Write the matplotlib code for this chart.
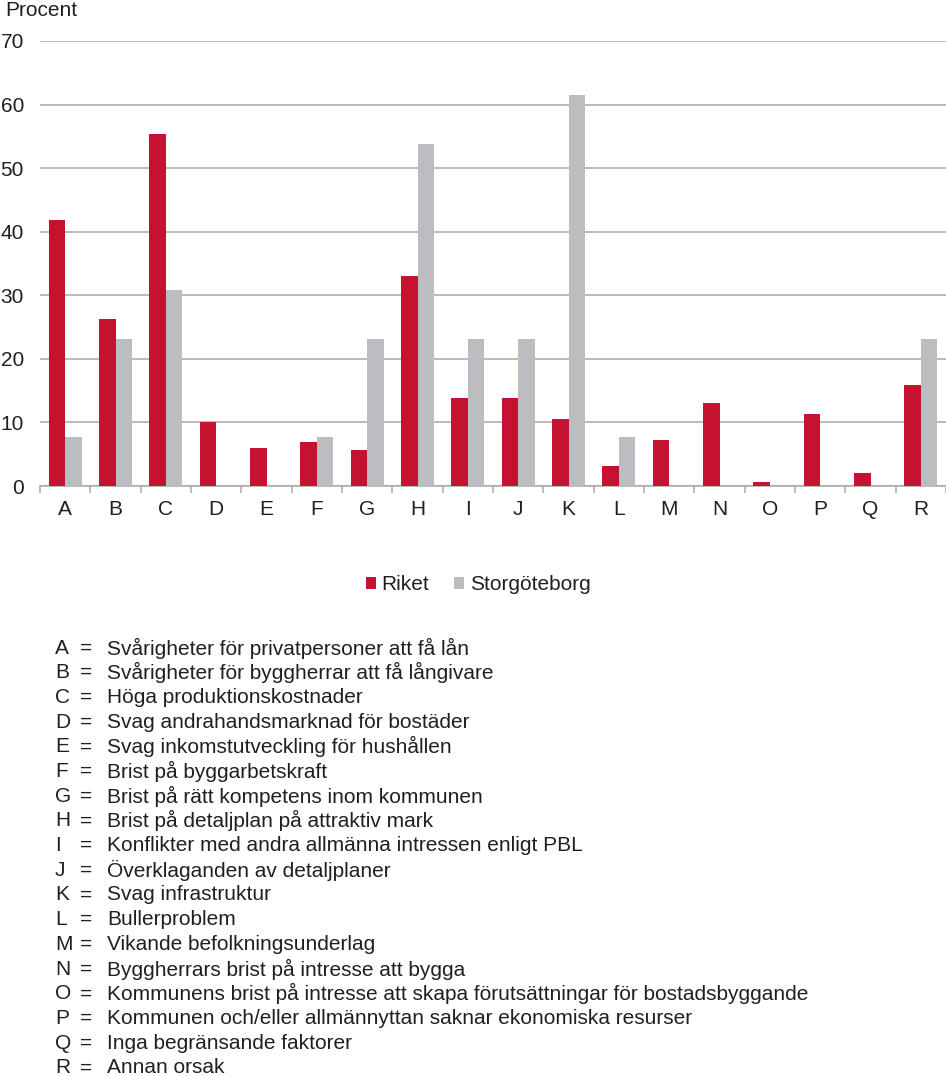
import matplotlib.pyplot as plt
import numpy as np

plt.rcParams['font.family'] = ['Liberation Sans', 'DejaVu Sans']

# Data
categories = ['A', 'B', 'C', 'D', 'E', 'F', 'G', 'H', 'I', 'J', 'K', 'L', 'M', 'N', 'O', 'P', 'Q', 'R']
riket = [41.8, 26.3, 55.3, 10.1, 5.9, 7.0, 5.7, 33.1, 13.9, 13.9, 10.5, 3.1, 7.2, 13.1, 0.7, 11.4, 2.0, 15.9]
storgoteborg = [7.7, 23.1, 30.8, 0, 0, 7.7, 23.1, 53.8, 23.1, 23.1, 61.5, 7.7, 0, 0, 0, 0, 0, 23.1]
descriptions = [
    'Svårigheter för privatpersoner att få lån',
    'Svårigheter för byggherrar att få långivare',
    'Höga produktionskostnader',
    'Svag andrahandsmarknad för bostäder',
    'Svag inkomstutveckling för hushållen',
    'Brist på byggarbetskraft',
    'Brist på rätt kompetens inom kommunen',
    'Brist på detaljplan på attraktiv mark',
    'Konflikter med andra allmänna intressen enligt PBL',
    'Överklaganden av detaljplaner',
    'Svag infrastruktur',
    'Bullerproblem',
    'Vikande befolkningsunderlag',
    'Byggherrars brist på intresse att bygga',
    'Kommunens brist på intresse att skapa förutsättningar för bostadsbyggande',
    'Kommunen och/eller allmännyttan saknar ekonomiska resurser',
    'Inga begränsande faktorer',
    'Annan orsak',
]

red = '#C41230'
grey = '#BCBDC0'
text_col = '#231F20'
grid_col = '#A8A8A8'
fs = 15

W, H = 946, 1076
fig = plt.figure(figsize=(W / 100, H / 100), dpi=100)
ax = fig.add_axes([40 / W, 1 - 486 / H, 906 / W, 445 / H])

x = np.arange(len(categories))
w = 0.33
ax.bar(x - w / 2, riket, w, color=red, label='Riket', zorder=3)
ax.bar(x + w / 2, storgoteborg, w, color=grey, label='Storgöteborg', zorder=3)

ax.set_xlim(-0.5, len(categories) - 0.5)
ax.set_ylim(0, 70)
ax.set_yticks(range(0, 71, 10))
ax.yaxis.grid(True, color=grid_col, linewidth=1.1, zorder=0)
ax.set_axisbelow(True)

for s in ['top', 'right', 'left']:
    ax.spines[s].set_visible(False)
ax.spines['bottom'].set_color(grid_col)
ax.spines['bottom'].set_linewidth(1.1)

ax.set_xticks(x)
ax.set_xticklabels(categories)
ax.set_xticks(np.arange(-0.5, len(categories)), minor=True)
ax.tick_params(axis='x', which='major', length=0, pad=10, labelsize=fs, labelcolor=text_col)
ax.tick_params(axis='x', which='minor', length=5, color=grid_col, width=1.1, direction='out')
ax.tick_params(axis='y', length=0, pad=11.5, labelsize=fs, labelcolor=text_col)

fig.text(5 / W, 1 - 10 / H, 'Procent', fontsize=fs, color=text_col, va='center', ha='left')

leg = fig.legend(loc='center', bbox_to_anchor=(478 / W, 1 - 585 / H), ncol=2, frameon=False,
                 fontsize=fs, handlelength=0.5, handleheight=0.5, handletextpad=0.25,
                 columnspacing=1.2, labelcolor=text_col)

# Key of categories
y0 = 648
dy = 24.7
for i, (c, d) in enumerate(zip(categories, descriptions)):
    y = 1 - (y0 + i * dy) / H
    fig.text(55 / W, y, c, fontsize=fs, color=text_col, va='center', ha='left')
    fig.text(80 / W, y, '=', fontsize=fs, color=text_col, va='center', ha='left')
    fig.text(107 / W, y, d, fontsize=fs, color=text_col, va='center', ha='left')

fig.savefig('out.png', dpi=100)
